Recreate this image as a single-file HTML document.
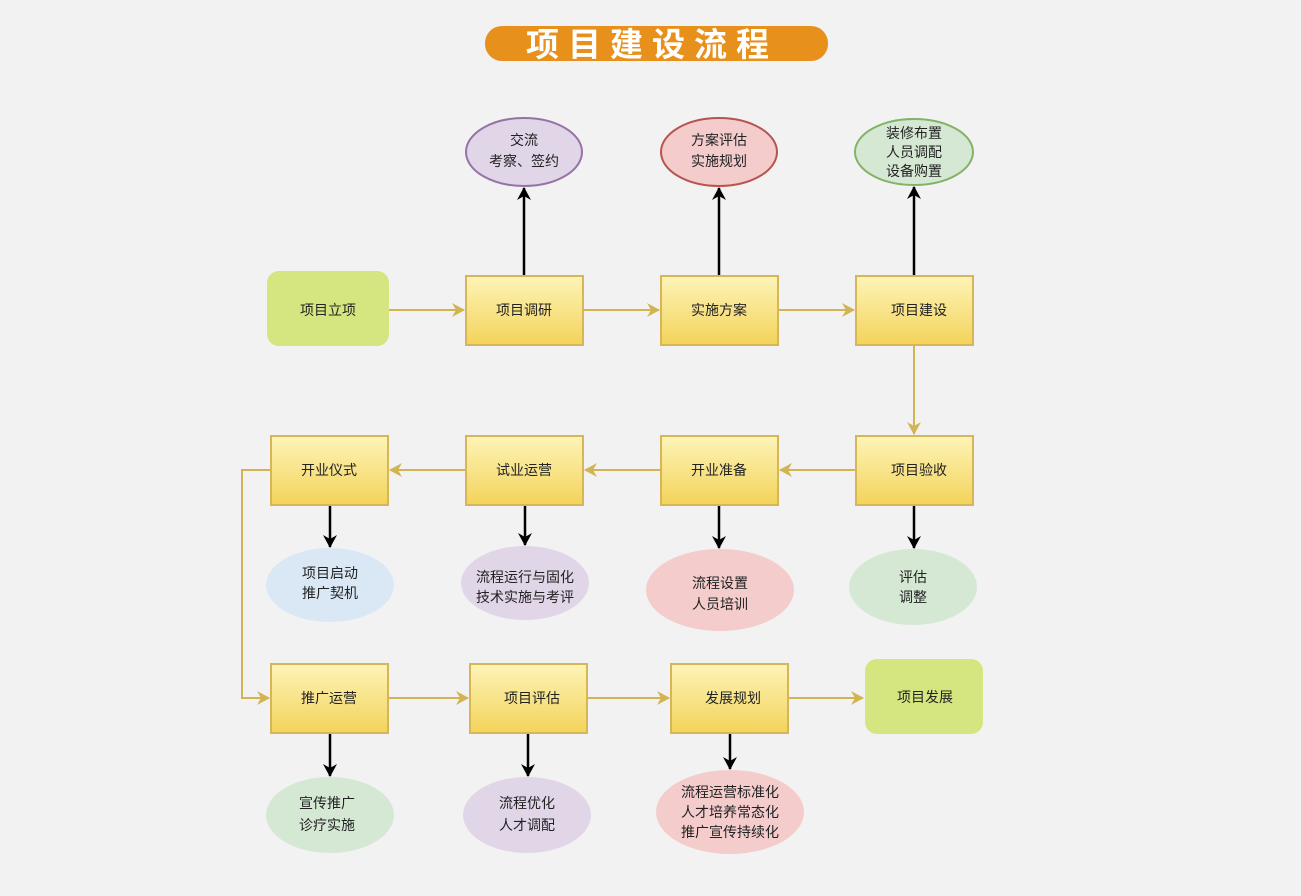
<!DOCTYPE html>
<html><head><meta charset="utf-8"><style>
html,body{margin:0;padding:0;background:#f2f2f2;}
svg{display:block;}
text{font-family:"Liberation Sans","Noto Sans CJK SC",sans-serif;font-size:14px;fill:#222;text-anchor:middle;}
</style></head><body>
<svg width="1301" height="896" viewBox="0 0 1301 896" xmlns="http://www.w3.org/2000/svg">
<defs>
<linearGradient id="g" x1="0" y1="0" x2="0" y2="1"><stop offset="0" stop-color="#fdf4b8"/><stop offset="1" stop-color="#f3d35a"/></linearGradient>
<marker id="ya" markerWidth="14" markerHeight="14" refX="12" refY="7" orient="auto" markerUnits="userSpaceOnUse"><path d="M0,0 L13,7 L0,14 L4,7 Z" fill="#d2b452"/></marker>
<marker id="ba" markerWidth="14" markerHeight="16" refX="12" refY="7" orient="auto" markerUnits="userSpaceOnUse"><path d="M0,0 L13,7 L0,14 L4,7 Z" fill="#000"/></marker>
</defs>
<rect width="1301" height="896" fill="#f2f2f2"/>
<rect x="485" y="26" width="343" height="35" rx="17" fill="#e8901c"/>
<text x="652" y="56" style="font-size:33px;font-weight:bold;fill:#fff;letter-spacing:9px">项目建设流程</text>

<g fill="none" stroke="#d2b452" stroke-width="2">
<line x1="389" y1="310" x2="464" y2="310" marker-end="url(#ya)"/>
<line x1="583" y1="310" x2="659" y2="310" marker-end="url(#ya)"/>
<line x1="778" y1="310" x2="854" y2="310" marker-end="url(#ya)"/>
<line x1="914" y1="345" x2="914" y2="434" marker-end="url(#ya)"/>
<line x1="856" y1="470" x2="780" y2="470" marker-end="url(#ya)"/>
<line x1="661" y1="470" x2="585" y2="470" marker-end="url(#ya)"/>
<line x1="466" y1="470" x2="390" y2="470" marker-end="url(#ya)"/>
<polyline points="271,470 242,470 242,698 269,698" marker-end="url(#ya)"/>
<line x1="388" y1="698" x2="468" y2="698" marker-end="url(#ya)"/>
<line x1="587" y1="698" x2="669" y2="698" marker-end="url(#ya)"/>
<line x1="788" y1="698" x2="863" y2="698" marker-end="url(#ya)"/>
</g>
<g stroke="#000" stroke-width="2.5">
<line x1="524" y1="276" x2="524" y2="188" marker-end="url(#ba)"/>
<line x1="719" y1="276" x2="719" y2="188" marker-end="url(#ba)"/>
<line x1="914" y1="276" x2="914" y2="187" marker-end="url(#ba)"/>
<line x1="330" y1="505" x2="330" y2="547" marker-end="url(#ba)"/>
<line x1="525" y1="505" x2="525" y2="545" marker-end="url(#ba)"/>
<line x1="719" y1="505" x2="719" y2="548" marker-end="url(#ba)"/>
<line x1="914" y1="505" x2="914" y2="548" marker-end="url(#ba)"/>
<line x1="330" y1="733" x2="330" y2="776" marker-end="url(#ba)"/>
<line x1="528" y1="733" x2="528" y2="776" marker-end="url(#ba)"/>
<line x1="730" y1="733" x2="730" y2="769" marker-end="url(#ba)"/>
</g>

<rect x="267" y="271" width="122" height="75" rx="12" fill="#d5e57f"/>
<rect x="865" y="659" width="118" height="75" rx="12" fill="#d5e57f"/>
<g fill="url(#g)" stroke="#d6b656" stroke-width="2">
<rect x="466" y="276" width="117" height="69"/>
<rect x="661" y="276" width="117" height="69"/>
<rect x="856" y="276" width="117" height="69"/>
<rect x="271" y="436" width="117" height="69"/>
<rect x="466" y="436" width="117" height="69"/>
<rect x="661" y="436" width="117" height="69"/>
<rect x="856" y="436" width="117" height="69"/>
<rect x="271" y="664" width="117" height="69"/>
<rect x="470" y="664" width="117" height="69"/>
<rect x="671" y="664" width="117" height="69"/>
</g>
<ellipse cx="524" cy="152" rx="58" ry="34" fill="#e1d5e8" stroke="#9673a6" stroke-width="2"/>
<ellipse cx="719" cy="152" rx="58" ry="34" fill="#f4cccc" stroke="#b85450" stroke-width="2"/>
<ellipse cx="914" cy="152" rx="59" ry="33" fill="#d5e8d4" stroke="#82b366" stroke-width="2"/>
<ellipse cx="330" cy="585" rx="64" ry="37" fill="#dae8f5"/>
<ellipse cx="525" cy="583" rx="64" ry="37" fill="#e1d5e8"/>
<ellipse cx="720" cy="590" rx="74" ry="41" fill="#f4cccc"/>
<ellipse cx="913" cy="587" rx="64" ry="38" fill="#d5e8d4"/>
<ellipse cx="330" cy="815" rx="64" ry="38" fill="#d5e8d4"/>
<ellipse cx="527" cy="815" rx="64" ry="38" fill="#e1d5e8"/>
<ellipse cx="730" cy="812" rx="74" ry="42" fill="#f4cccc"/>

<text x="328" y="315">项目立项</text>
<text x="524" y="315">项目调研</text>
<text x="719" y="315">实施方案</text>
<text x="919" y="315">项目建设</text>
<text x="329" y="475">开业仪式</text>
<text x="524" y="475">试业运营</text>
<text x="719" y="475">开业准备</text>
<text x="919" y="475">项目验收</text>
<text x="329" y="703">推广运营</text>
<text x="532" y="703">项目评估</text>
<text x="733" y="703">发展规划</text>
<text x="925" y="702">项目发展</text>

<text x="524" y="145">交流</text><text x="524" y="166">考察、签约</text>
<text x="719" y="145">方案评估</text><text x="719" y="166">实施规划</text>
<text x="914" y="138">装修布置</text><text x="914" y="157">人员调配</text><text x="914" y="176">设备购置</text>
<text x="330" y="578">项目启动</text><text x="330" y="598">推广契机</text>
<text x="525" y="582">流程运行与固化</text><text x="525" y="602">技术实施与考评</text>
<text x="720" y="588">流程设置</text><text x="720" y="609">人员培训</text>
<text x="913" y="582">评估</text><text x="913" y="602">调整</text>
<text x="327" y="808">宣传推广</text><text x="327" y="830">诊疗实施</text>
<text x="527" y="808">流程优化</text><text x="527" y="830">人才调配</text>
<text x="730" y="797">流程运营标准化</text><text x="730" y="817">人才培养常态化</text><text x="730" y="837">推广宣传持续化</text>
</svg>
</body></html>
